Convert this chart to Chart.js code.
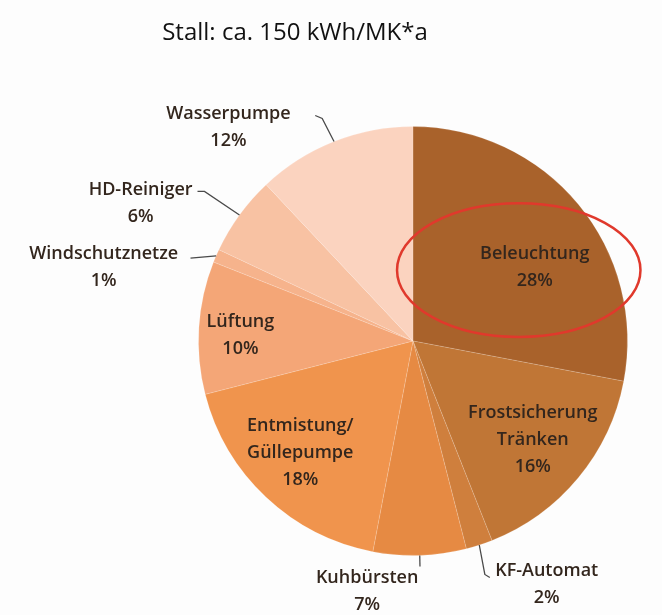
<!DOCTYPE html>
<html>
<head>
<meta charset="utf-8">
<script src="https://cdn.jsdelivr.net/npm/chart.js@4.4.1/dist/chart.umd.min.js"></script>
<style>
  html, body { margin: 0; padding: 0; background: #fdfdfd; }
  canvas { display: block; }
</style>
</head>
<body>
<canvas id="stall" width="662" height="615"></canvas>
<script>
const title = "Stall: ca. 150 kWh/MK*a";
const labels = ["Beleuchtung", "Frostsicherung Tränken", "KF-Automat", "Kuhbürsten",
  "Entmistung/ Güllepumpe", "Lüftung", "Windschutznetze", "HD-Reiniger", "Wasserpumpe"];
const labelLines = [["Beleuchtung"], ["Frostsicherung", "Tränken"], ["KF-Automat"], ["Kuhbürsten"],
  ["Entmistung/", "Güllepumpe"], ["Lüftung"], ["Windschutznetze"], ["HD-Reiniger"], ["Wasserpumpe"]];
const shares = [28, 16, 2, 7, 18, 10, 1, 6, 12];
const colors = ["#a9622b", "#c07636", "#cf7f3d", "#e68a43", "#f0944d",
  "#f4a677", "#f6b38c", "#f8c2a3", "#fbd3bf"];

// where the text sits, as offsets from the pie centre (for a radius of 215)
const textPos = [
  [122, -74], [120, 99], [134, 244], [-46, 251], [-113, 112],
  [-173, -6], [-310, -74], [-273, -138], [-185, -214]
];
// leader lines for the labels outside the pie (points after the edge point)
const leaders = {
  2: [[72, 234], [77, 237]],
  3: [[7, 226]],
  6: [[-223, -83]],
  7: [[-209, -150], [-216, -150]],
  8: [[-91, -223], [-98, -226]]
};

const labelPlugin = {
  id: "labels",
  afterDraw(chart) {
    const ctx = chart.ctx;
    const arcs = chart.getDatasetMeta(0).data;
    const cx = arcs[0].x, cy = arcs[0].y, r = arcs[0].outerRadius;
    const k = r / 215;

    ctx.save();
    // title
    ctx.fillStyle = "#111";
    ctx.font = "24px 'Open Sans', sans-serif";
    ctx.textAlign = "center";
    ctx.textBaseline = "middle";
    ctx.fillText(title, 295, 33);

    // leader lines
    ctx.strokeStyle = "#4a4a4a";
    ctx.lineWidth = 1.3;
    Object.keys(leaders).forEach(i => {
      const a = arcs[i];
      const mid = (a.startAngle + a.endAngle) / 2;
      ctx.beginPath();
      ctx.moveTo(cx + Math.cos(mid) * r, cy + Math.sin(mid) * r);
      leaders[i].forEach(p => ctx.lineTo(cx + p[0] * k, cy + p[1] * k));
      ctx.stroke();
    });

    // labels
    ctx.fillStyle = "#33261d";
    ctx.font = "600 18px 'Open Sans', sans-serif";
    const lh = 27;
    shares.forEach((v, i) => {
      const lines = labelLines[i].concat([v + "%"]);
      const x = cx + textPos[i][0] * k;
      const y0 = cy + textPos[i][1] * k - (lines.length - 1) * lh / 2;
      lines.forEach((t, j) => ctx.fillText(t, x, y0 + j * lh));
    });

    // red ellipse around Beleuchtung
    ctx.strokeStyle = "#e0392c";
    ctx.lineWidth = 2.5;
    ctx.beginPath();
    ctx.ellipse(cx + 106 * k, cy - 71 * k, 122 * k, 67 * k, 0, 0, Math.PI * 2);
    ctx.stroke();
    ctx.restore();
  }
};

new Chart(document.getElementById("stall"), {
  type: "pie",
  data: {
    labels: labels,
    datasets: [{
      data: shares,
      backgroundColor: colors,
      borderColor: "rgba(255,255,255,0.15)",
      borderWidth: 1
    }]
  },
  options: {
    responsive: false,
    animation: false,
    layout: { padding: { left: 198, right: 34, top: 126, bottom: 59 } },
    plugins: {
      legend: { display: false },
      tooltip: { enabled: false }
    }
  },
  plugins: [labelPlugin]
});
</script>
</body>
</html>
